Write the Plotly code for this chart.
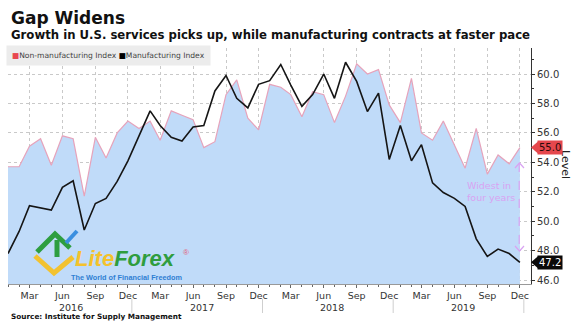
import plotly.graph_objects as go
import pandas as pd

months = pd.date_range("2016-01-01", periods=48, freq="MS")

non_manufacturing = [53.7, 53.7, 55.1, 55.6, 53.8, 55.8, 55.6, 51.7, 55.7, 54.3, 56.0, 56.8,
                     56.3, 56.8, 55.5, 57.5, 57.2, 56.9, 55.0, 55.4, 58.6, 59.6, 57.0, 56.2,
                     59.3, 59.1, 58.6, 57.1, 58.8, 58.6, 56.7, 58.5, 60.7, 60.0, 60.3, 57.9,
                     56.7, 59.7, 56.0, 55.5, 56.8, 55.2, 53.6, 56.3, 53.2, 54.5, 53.9, 55.0]

manufacturing = [47.8, 49.3, 51.05, 50.9, 50.75, 52.3, 52.75, 49.4, 51.2, 51.55, 52.7, 54.1,
                 55.85, 57.5, 56.5, 55.7, 55.45, 56.4, 56.5, 58.85, 59.9, 58.35, 57.7, 59.3,
                 59.55, 60.65, 59.25, 57.8, 58.6, 60.0, 58.35, 60.8, 59.5, 57.45, 58.7, 54.2,
                 56.5, 54.1, 55.2, 52.6, 51.95, 51.55, 51.0, 48.8, 47.6, 48.1, 47.8, 47.2]

tick_dates = pd.date_range("2016-03-01", "2019-12-01", freq="3MS")
tick_labels = [d.strftime("%b") for d in tick_dates]
years = ["2016", "2017", "2018", "2019"]

W, H = 578, 327
ML, MR, MT, MB = 8, 47, 48, 43
Y0, Y1 = 45.73, 61.77

def px(x):
    return (x - ML) / (W - ML - MR)

def py(y):
    return (H - MB - y) / (H - MT - MB)

fig = go.Figure()
fig.add_trace(go.Scatter(x=months, y=non_manufacturing, mode="lines",
                         line=dict(color="#e6a3bb", width=1.2),
                         fill="tozeroy", fillcolor="#c0dbf9", showlegend=False,
                         name="Non-manufacturing Index"))
fig.add_trace(go.Scatter(x=months, y=manufacturing, mode="lines",
                         line=dict(color="#151515", width=1.6), showlegend=False,
                         name="Manufacturing Index"))

font = "DejaVu Sans"
ann = []
shapes = []
# titles
ann.append(dict(text="<b>Gap Widens</b>", xref="paper", yref="paper", x=px(9), y=py(6),
                xanchor="left", yanchor="top", showarrow=False,
                font=dict(family=font, size=17, color="#111")))
ann.append(dict(text="<b>Growth in U.S. services picks up, while manufacturing contracts at faster pace</b>",
                xref="paper", yref="paper", x=px(9), y=py(26), xanchor="left", yanchor="top",
                showarrow=False, font=dict(family=font, size=11.7, color="#111")))
ann.append(dict(text="<b>Source: Institute for Supply Management</b>", xref="paper", yref="paper",
                x=px(9), y=py(310), xanchor="left", yanchor="top", showarrow=False,
                font=dict(family=font, size=7.3, color="#111")))
# legend
ann.append(dict(text='<span style="color:#e8474f">■</span>Non-manufacturing Index '
                     '<span style="color:#000">■</span>Manufacturing Index',
                xref="paper", yref="paper", x=px(6), y=py(45), xanchor="left", yanchor="top",
                showarrow=False, bgcolor="#ececec", borderpad=5,
                font=dict(family=font, size=7.6, color="#444")))
# year labels
for yr in years:
    ann.append(dict(text=yr, xref="x", yref="paper", x=f"{yr}-06-25", y=py(300),
                    xanchor="center", yanchor="top", showarrow=False,
                    font=dict(family=font, size=9.5, color="#333")))
for yr in years:
    shapes.append(dict(type="line", xref="x", yref="paper", x0=f"{yr}-12-12", x1=f"{yr}-12-12",
                       y0=py(299), y1=py(313), line=dict(color="#cfcfcf", width=1)))
# level
ann.append(dict(text="Level", xref="paper", yref="paper", x=px(566), y=py(164), textangle=90,
                xanchor="center", yanchor="middle",
                showarrow=False, font=dict(family=font, size=11, color="#222")))
# last value flags
ann.append(dict(text="55.0", xref="paper", yref="y", x=px(537), y=non_manufacturing[-1],
                xanchor="left", yanchor="middle", showarrow=False, bgcolor="#e5474d",
                borderpad=1, font=dict(family=font, size=10, color="#2a0a0a")))
shapes.append(dict(type="path", xref="paper", yref="paper",
                   path=f"M {px(531)} {py(147.5)} L {px(538)} {py(141.5)} L {px(538)} {py(153.5)} Z",
                   fillcolor="#e5474d", line=dict(width=0)))
ann.append(dict(text="47.2", xref="paper", yref="y", x=px(537), y=manufacturing[-1],
                xanchor="left", yanchor="middle", showarrow=False, bgcolor="#0a0a0a",
                borderpad=1, font=dict(family=font, size=10, color="#ffffff")))
yb = 74 + (60 - manufacturing[-1]) * 14.71
shapes.append(dict(type="path", xref="paper", yref="paper",
                   path=f"M {px(531)} {py(yb)} L {px(538)} {py(yb-6)} L {px(538)} {py(yb+6)} Z",
                   fillcolor="#0a0a0a", line=dict(width=0)))
# widest annotation
vio = "#d9a3f2"
ann.append(dict(text="Widest in<br>four years", xref="paper", yref="paper", x=px(465), y=py(192),
                xanchor="left", yanchor="middle", align="left", showarrow=False,
                font=dict(family=font, size=9.5, color=vio)))
ax = "2019-11-29"
shapes.append(dict(type="line", xref="x", yref="y", x0=ax, x1=ax, y0=53.95, y1=48.05,
                   line=dict(color=vio, width=1.2, dash="dash")))
shapes.append(dict(type="path", xref="paper", yref="paper",
                   path=f"M {px(515)} {py(168)} L {px(519.5)} {py(163)} L {px(524)} {py(168)}",
                   line=dict(color=vio, width=1.2)))
shapes.append(dict(type="path", xref="paper", yref="paper",
                   path=f"M {px(515)} {py(246)} L {px(519.5)} {py(251)} L {px(524)} {py(246)}",
                   line=dict(color=vio, width=1.2)))
# logo
def poly(pts, color, width):
    d = "M " + " L ".join(f"{px(a)} {py(b)}" for a, b in pts)
    shapes.append(dict(type="path", xref="paper", yref="paper", path=d,
                       line=dict(color=color, width=width)))
poly([(35, 256), (54, 273), (73, 257)], "#f2c230", 5)
poly([(37, 252), (55, 234), (70, 248)], "#2e9e40", 5)
poly([(57, 240), (57, 257)], "#2e9e40", 5)
poly([(66, 243), (77, 231)], "#3a8fe0", 4)
ann.append(dict(text='<i><b><span style="color:#f4c22c">Lite</span><span style="color:#2f9d3e">Forex</span></b></i>',
                xref="paper", yref="paper", x=px(74), y=py(258), xanchor="left", yanchor="middle",
                showarrow=False, borderpad=0,
                font=dict(family="Liberation Sans", size=22)))
ann.append(dict(text="®", xref="paper", yref="paper", x=px(186), y=py(252),
                xanchor="center", yanchor="middle", showarrow=False,
                font=dict(family="Liberation Sans", size=8, color="#e2607a")))
ann.append(dict(text="<b>The World of Financial Freedom</b>", xref="paper", yref="paper",
                x=px(70), y=py(271.5), xanchor="left", yanchor="top", showarrow=False,
                borderpad=0, font=dict(family="Liberation Sans", size=7.3, color="#2f7fd3")))

minor_months = pd.date_range("2016-01-01", "2019-12-01", freq="MS")

fig.update_layout(
    width=W, height=H, margin=dict(l=ML, r=MR, t=MT, b=MB),
    paper_bgcolor="white", plot_bgcolor="white",
    annotations=ann, shapes=shapes, showlegend=False,
    xaxis=dict(type="date", range=["2016-01-01", "2020-01-01"],
               tickmode="array", tickvals=tick_dates, ticktext=tick_labels,
               ticks="outside", ticklen=3, tickcolor="#666",
               showgrid=True, gridcolor="#c9c9c9", griddash="dot", gridwidth=1,
               showline=True, linecolor="#999", linewidth=1,
               minor=dict(tickmode="array", tickvals=minor_months, ticks="outside",
                          ticklen=2, tickcolor="#666", showgrid=False),
               tickfont=dict(family=font, size=9.5, color="#333")),
    yaxis=dict(side="right", range=[Y0, Y1], dtick=2, tick0=0, tickformat=".1f",
               ticks="outside", ticklen=3, tickcolor="#333",
               showgrid=True, gridcolor="#c9c9c9", griddash="dot", gridwidth=1,
               showline=True, linecolor="#333", linewidth=1, zeroline=False,
               minor=dict(dtick=1, ticks="outside", ticklen=2, tickcolor="#333", showgrid=False),
               tickfont=dict(family=font, size=10, color="#333")),
)
fig.write_html("out.html")
